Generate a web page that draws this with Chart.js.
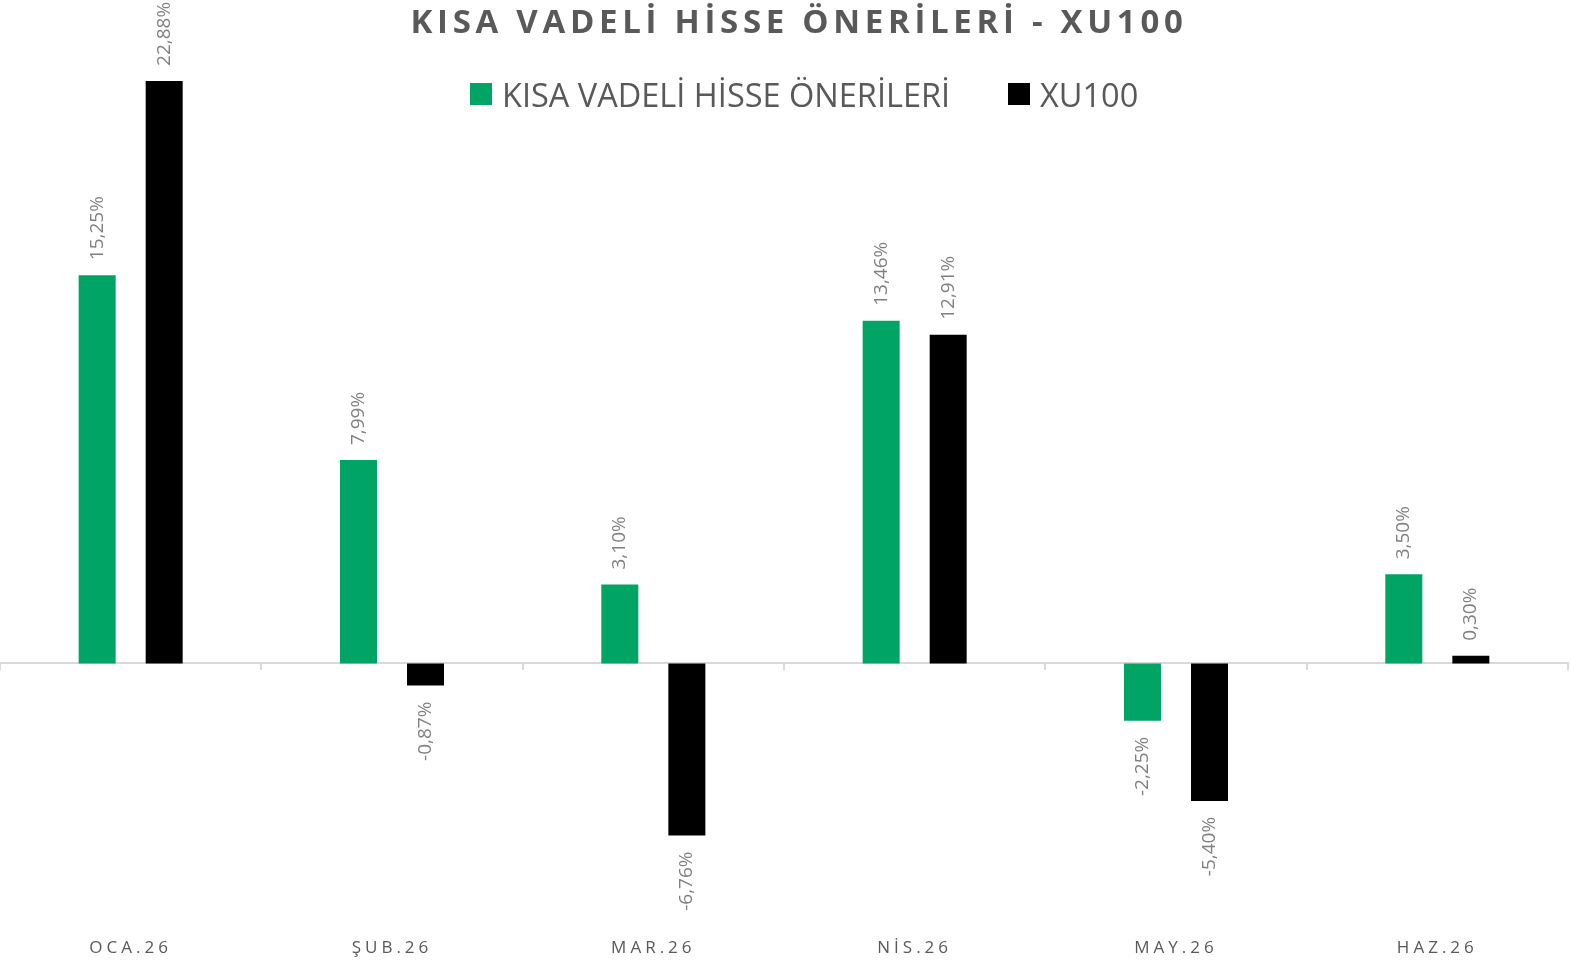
<!DOCTYPE html>
<html>
<head>
<meta charset="utf-8">
<script src="https://cdn.jsdelivr.net/npm/chart.js@4.4.1/dist/chart.umd.min.js"></script>
<style>
    html, body { margin:0; padding:0; background:#ffffff; }
    #wrap { position:relative; width:1571px; height:961px; overflow:hidden; }
    #ChartTitle {
        position:absolute; left:0; top:0; width:1598px; text-align:center;
        font-family:'Open Sans', sans-serif; font-weight:700; font-size:33px;
        letter-spacing:4.7px; color:#595959; line-height:42px;
    }
    .legendItem {
        position:absolute; top:74px; height:40px; display:flex; align-items:center;
        font-family:'Open Sans', sans-serif; font-size:32.5px; color:#595959; white-space:nowrap;
    }
    .legendItem span.box { display:inline-block; width:22px; height:22px; margin-right:10px; }
    canvas { position:absolute; left:0; top:0; }
</style>
</head>
<body>
<div id="wrap">
    <canvas id="ReturnChart" width="1571" height="961"></canvas>
    <div id="ChartTitle">KISA VADELİ HİSSE ÖNERİLERİ - XU100</div>
    <div id="Legend"></div>
</div>
<script>
// months
const LABELS = ['OCA.26', 'ŞUB.26', 'MAR.26', 'NİS.26', 'MAY.26', 'HAZ.26'];
// monthly returns (%)
const PICKS = [15.25, 7.99, 3.10, 13.46, -2.25, 3.50];
const XU100 = [22.88, -0.87, -6.76, 12.91, -5.40, 0.30];

const SERIES_NAMES = ['KISA VADELİ HİSSE ÖNERİLERİ', 'XU100'];
const SERIES_COLORS = ['#00a464', '#000000'];
const LEGEND_LEFT = [470, 1008];

const valueLabels = {
    id: 'valueLabels',
    beforeDraw(chart) {
        chart.ctx.letterSpacing = '4px';
    },
    beforeDatasetsDraw(chart) {
        chart.ctx.letterSpacing = '0px';
    },
    afterDatasetsDraw(chart) {
        let ctx = chart.ctx;
        chart.data.datasets.forEach((ds, i) => {
            let meta = chart.getDatasetMeta(i);
            meta.data.forEach((bar, j) => {
                let v = ds.data[j];
                let txt = v.toFixed(2).replace('.', ',') + '%';
                ctx.save();
                ctx.font = '19px "Open Sans"';
                ctx.fillStyle = '#808080';
                ctx.textBaseline = 'middle';
                ctx.translate(bar.x, v >= 0 ? bar.y - 15 : bar.y + 16);
                ctx.rotate(-Math.PI / 2);
                ctx.textAlign = v >= 0 ? 'left' : 'right';
                ctx.fillText(txt, 0, 0);
                ctx.restore();
            });
        });
    }
};

window.onload = function(){
    drawLegend();

    let ctx = document.getElementById('ReturnChart').getContext('2d');
    window.RChart = new Chart(ctx, {
        type: 'bar',
        data: {
            labels: LABELS,
            datasets: [
            {
                label: SERIES_NAMES[0],
                data: PICKS,
                backgroundColor: SERIES_COLORS[0],
                categoryPercentage: 0.513,
                barPercentage: 0.552,
            },
            {
                label: SERIES_NAMES[1],
                data: XU100,
                backgroundColor: SERIES_COLORS[1],
                categoryPercentage: 0.513,
                barPercentage: 0.552,
            }]
        },
        options: {
            responsive: false,
            animation: false,
            layout: {
                padding: { top: 27, left: 0, right: 3, bottom: 0 }
            },
            plugins: {
                legend: { display: false },
                title: { display: false },
                tooltip: { enabled: false }
            },
            scales: {
                y: {
                    display: false,
                    min: -10,
                    max: 25,
                },
                x: {
                    grid: { display: false, drawTicks: false },
                    border: { display: false },
                    ticks: {
                        padding: 20,
                        color: '#595959',
                        font: { family: 'Open Sans', size: 17 },
                        maxRotation: 0,
                    },
                    afterFit: function(scale) {
                        scale.height = 43;
                    }
                },
                x2: {
                    type: 'category',
                    labels: LABELS,
                    position: { y: 0 },
                    grid: {
                        offset: true,
                        drawOnChartArea: false,
                        color: '#d9d9d9',
                        lineWidth: 2,
                        tickLength: 6,
                    },
                    border: { display: true, color: '#d9d9d9', width: 2 },
                    ticks: { display: false }
                }
            }
        },
        plugins: [valueLabels]
    });
};

function drawLegend(){
    let html = '';
    SERIES_NAMES.forEach((name, i) => {
        html += '<div class="legendItem" style="left:' + LEGEND_LEFT[i] + 'px">'
             + '<span class="box" style="background:' + SERIES_COLORS[i] + '"></span>'
             + name + '</div>';
    });
    document.getElementById('Legend').innerHTML = html;
}
</script>
</body>
</html>
